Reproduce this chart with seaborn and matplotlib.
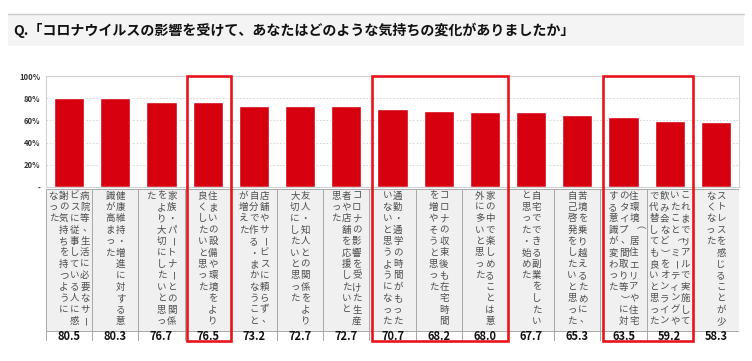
import matplotlib
matplotlib.use("Agg")
import matplotlib.pyplot as plt
import seaborn as sns
from matplotlib.patches import Rectangle
from matplotlib.transforms import blended_transform_factory

title = "Q.「コロナウイルスの影響を受けて、あなたはどのような気持ちの変化がありましたか」"

labels = [
    "病院等、生活に必要なサー\nビスに従事している人に感\n謝の気持ちを持つように\nなった",
    "健康維持・増進に対する意\n識が高まった",
    "家族・パートナーとの関係\nをより大切にしたいと思っ\nた",
    "住まいの設備や環境をより\n良くしたいと思った",
    "店舗やサービスに頼らず、\n自分で作る・まかなうこと\nが増えた",
    "友人・知人との関係をより\n大切にしたいと思った",
    "コロナの影響を受けた生産\n者や店舗を応援したいと\n思った",
    "通勤・通学の時間がもった\nいないと思うようになった",
    "コロナの収束後も在宅時間\nを増やそうと思った",
    "家の中で楽しめることは意\n外に多いと思った",
    "自宅でできる副業をしたい\nと思った・始めた",
    "苦境を乗り越えるために、\n自己啓発をしたいと思った",
    "住環境（居住エリアや住宅\nのタイプ、間取り等）に対\nする意識が変わった",
    "これまでリアルで実施して\nいたこと（ミーティングや\n飲み会など）をオンライン\nで代替しても良いと思った",
    "ストレスを感じることが少\nなくなった",
]
values = [80.5, 80.3, 76.7, 76.5, 73.2, 72.7, 72.7, 70.7, 68.2, 68.0, 67.7, 65.3, 63.5, 59.2, 58.3]
yticks = [0, 20, 40, 60, 80, 100]
ytick_labels = ["-", "20%", "40%", "60%", "80%", "100%"]
highlight = [(3, 3), (7, 9), (12, 13)]

W, H = 752, 361
BAR_RED = "#d7000f"
BOX_RED = "#e8141c"

sns.set_style("white")
plt.rcParams["font.family"] = ["Noto Sans CJK JP", "DejaVu Sans"]


def fx(x):
    return x / W


def fy(y):
    return 1 - y / H


fig = plt.figure(figsize=(W / 100, H / 100), dpi=100)

# title bar
fig.patches.append(Rectangle((fx(8), fy(46)), fx(736), 32 / H, transform=fig.transFigure,
                             facecolor="#f4f4f4", edgecolor="none", zorder=0))
fig.lines.append(plt.Line2D([fx(8), fx(744)], [fy(14), fy(14)], transform=fig.transFigure,
                            color="#cccccc", lw=1))
fig.text(fx(13), fy(30), title, fontsize=10.1, fontweight="bold", va="center", ha="left", color="#111111")

# bar chart
left, right, top, bottom = 46, 739, 76, 187
ax = fig.add_axes([fx(left), fy(bottom), (right - left) / W, (bottom - top) / H])
sns.barplot(x=list(range(len(values))), y=values, color=BAR_RED, saturation=1, width=0.65, ax=ax)
ax.set_xlim(-0.5, len(values) - 0.5)
ax.set_ylim(0, 100)
ax.set_yticks(yticks)
ax.set_yticklabels(ytick_labels, fontsize=5.5, fontweight="bold", color="#333333")
ax.set_xticks([])
ax.set_xlabel("")
ax.set_ylabel("")
ax.tick_params(axis="y", length=0, pad=4)
for y in yticks[1:-1]:
    ax.axhline(y, color="#cfcfcf", lw=0.6, ls=(0, (2, 2)), zorder=0)
for s in ax.spines.values():
    s.set_color("#d0d0d0")
    s.set_linewidth(0.8)

# table of labels and values
t_top, t_bot = 189, 341
tax = fig.add_axes([fx(left), fy(t_bot), (right - left) / W, (t_bot - t_top) / H])
tax.set_xlim(-0.5, len(values) - 0.5)
tax.set_ylim(t_bot - t_top, 0)
tax.axis("off")
text_h = 142
cell_px = (right - left) / len(values)
col_sp = 10.5 / cell_px
row_sp = 11.4
for i, (lab, v) in enumerate(zip(labels, values)):
    tax.add_patch(Rectangle((i - 0.5, 0), 1, text_h, facecolor="#f0f0f0", edgecolor="#a8a8a8", lw=0.7))
    tax.add_patch(Rectangle((i - 0.5, text_h), 1, t_bot - t_top - text_h, facecolor="white",
                            edgecolor="#a8a8a8", lw=0.7))
    cols = lab.split("\n")
    n = len(cols)
    for k, col in enumerate(cols):
        x = i + ((n - 1) / 2 - k) * col_sp
        for r, ch in enumerate(col):
            y = 7 + row_sp * r
            rot = 0
            dx, dy = 0, 0
            if ch in "ー（）〜":
                rot = -90
            elif ch in "、。":
                dx, dy = 2 / cell_px, -2
            tax.text(x + dx, y + dy, ch, fontsize=6.8, color="#4d4d4d", ha="center", va="center",
                     rotation=rot, rotation_mode="anchor")
    tax.text(i, text_h + (t_bot - t_top - text_h) / 2 + 0.5, f"{v:.1f}", fontsize=8, fontweight="bold",
             color="#111111", ha="center", va="center")

# highlight boxes
trans = blended_transform_factory(ax.transData, fig.transFigure)
for a, b in highlight:
    fig.patches.append(Rectangle((a - 0.45, fy(341)), b - a + 0.95, (341 - 76) / H, transform=trans,
                                 facecolor="none", edgecolor=BOX_RED, lw=1.9, zorder=10))

fig.savefig("out.png", dpi=100)
